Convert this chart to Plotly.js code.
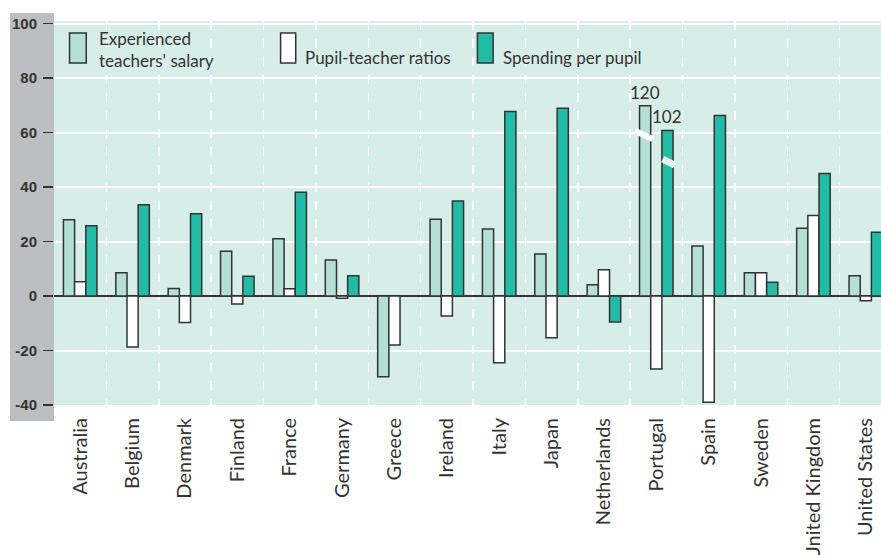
<!DOCTYPE html>
<html>
<head>
<meta charset="utf-8">
<script src="https://cdn.plot.ly/plotly-3.0.1.min.js"></script>
<style>
  html, body { margin: 0; padding: 0; background: #fff; }
  #chart { width: 881px; height: 555px; }
</style>
</head>
<body>
<div id="chart"></div>
<script>
// countries along the x axis
var countries = ['Australia', 'Belgium', 'Denmark', 'Finland', 'France', 'Germany', 'Greece',
  'Ireland', 'Italy', 'Japan', 'Netherlands', 'Portugal', 'Spain', 'Sweden',
  'United Kingdom', 'United States'];

// legend names (first one wraps onto two lines)
var seriesNames = ['Experienced<br>teachers\' salary', 'Pupil-teacher ratios', 'Spending per pupil'];

// Portugal's salary (120) and spending (102) bars are drawn cut off, as in the original
var salary   = [28, 8.6, 2.8, 16.5, 21, 13.2, -29.6, 28.2, 24.6, 15.4, 4.2, 69.9, 18.4, 8.6, 24.9, 7.5];
var pupil    = [5.3, -18.7, -9.7, -2.9, 2.7, -0.8, -18, -7.3, -24.5, -15.3, 9.7, -26.8, -39, 8.6, 29.6, -1.7];
var spending = [25.8, 33.5, 30.2, 7.3, 38.1, 7.5, null, 34.9, 67.8, 69, -9.5, 60.8, 66.3, 5.1, 45, 23.4];

// real values written above the cut-off bars
var brokenCountry = 'Portugal';
var brokenSalary = '120';
var brokenSpending = '102';

var yTicks = [-40, -20, 0, 20, 40, 60, 80, 100];

var colors = ['#b3dfd5', '#ffffff', '#22bba5'];
var outline = {color: '#333333', width: 1.5};
var txtFont = 'Lato, sans-serif';

var traces = [salary, pupil, spending].map(function (vals, i) {
  return {
    type: 'bar',
    x: countries,
    y: vals,
    name: seriesNames[i],
    marker: {color: colors[i], line: outline},
    hoverinfo: 'skip'
  };
});

var pIdx = countries.indexOf(brokenCountry);
var barW = (1 - 0.36) / 3;

var shapes = [
  // grey band behind the y tick labels
  {type: 'rect', xref: 'paper', yref: 'paper', xsizemode: 'pixel', ysizemode: 'pixel',
   xanchor: 0, yanchor: 0, x0: -44, x1: 0, y0: -16, y1: 392,
   fillcolor: '#bdbec2', line: {width: 0}, layer: 'below'},
  // break marks on the cut-off bars
  {type: 'line', xref: 'x', yref: 'y', x0: pIdx - 0.40, x1: pIdx - 0.07,
   y0: 60.6, y1: 57.7, line: {color: '#ffffff', width: 6}},
  {type: 'line', xref: 'x', yref: 'y', x0: pIdx + 0.12, x1: pIdx + 0.35,
   y0: 50.3, y1: 48.1, line: {color: '#e4f3ef', width: 7}}
];

// custom legend: tall boxes + text
var legBoxX = [[0.0188, 0.039], [0.274, 0.2923], [0.512, 0.531]];
var legTextX = [0.0514, 0.3007, 0.541];
var legTextY = [0.927, 0.906, 0.906];
var annotations = [];
for (var i = 0; i < 3; i++) {
  shapes.push({type: 'rect', xref: 'paper', yref: 'paper',
    x0: legBoxX[i][0], x1: legBoxX[i][1], y0: 0.8906, y1: 0.96875,
    fillcolor: colors[i], line: {color: '#333333', width: 1.5}});
  annotations.push({xref: 'paper', yref: 'paper', x: legTextX[i], y: legTextY[i],
    xanchor: 'left', yanchor: 'middle', align: 'left', showarrow: false,
    text: seriesNames[i], font: {family: txtFont, size: 17, color: '#333333'}});
}
annotations.push({xref: 'x', yref: 'y', x: pIdx - barW, y: salary[pIdx], text: brokenSalary,
  yanchor: 'bottom', showarrow: false, yshift: 1,
  font: {family: txtFont, size: 17, color: '#333333'}});
annotations.push({xref: 'x', yref: 'y', x: pIdx + barW, y: spending[pIdx], text: brokenSpending,
  yanchor: 'bottom', showarrow: false, yshift: 1,
  font: {family: txtFont, size: 17, color: '#333333'}});

var layout = {
  width: 881,
  height: 555,
  margin: {l: 54, r: 0, t: 21, b: 150},
  barmode: 'group',
  bargap: 0.36,
  bargroupgap: 0,
  showlegend: false,
  paper_bgcolor: '#ffffff',
  plot_bgcolor: '#d7ede7',
  xaxis: {
    type: 'category',
    range: [-0.5, 15.29],
    tickson: 'boundaries',
    showgrid: true,
    gridcolor: '#ffffff',
    griddash: 'dash',
    gridwidth: 1.5,
    ticks: '',
    tickangle: -90,
    ticklabelstandoff: 8,
    tickfont: {family: txtFont, size: 20, color: '#333333'},
    zeroline: false,
    showline: false
  },
  yaxis: {
    range: [-40, 101],
    tickvals: yTicks,
    ticktext: yTicks.map(String),
    ticks: 'outside',
    ticklen: 10,
    tickwidth: 1.5,
    tickcolor: '#333333',
    ticklabelstandoff: 3,
    tickfont: {family: 'Liberation Sans, Arial, sans-serif', size: 15, color: '#333333', weight: 'bold'},
    showgrid: true,
    gridcolor: '#ffffff',
    gridwidth: 2,
    zeroline: true,
    zerolinecolor: '#333333',
    zerolinewidth: 1.5,
    showline: false
  },
  shapes: shapes,
  annotations: annotations
};

Plotly.newPlot('chart', traces, layout, {staticPlot: true});
</script>
</body>
</html>
